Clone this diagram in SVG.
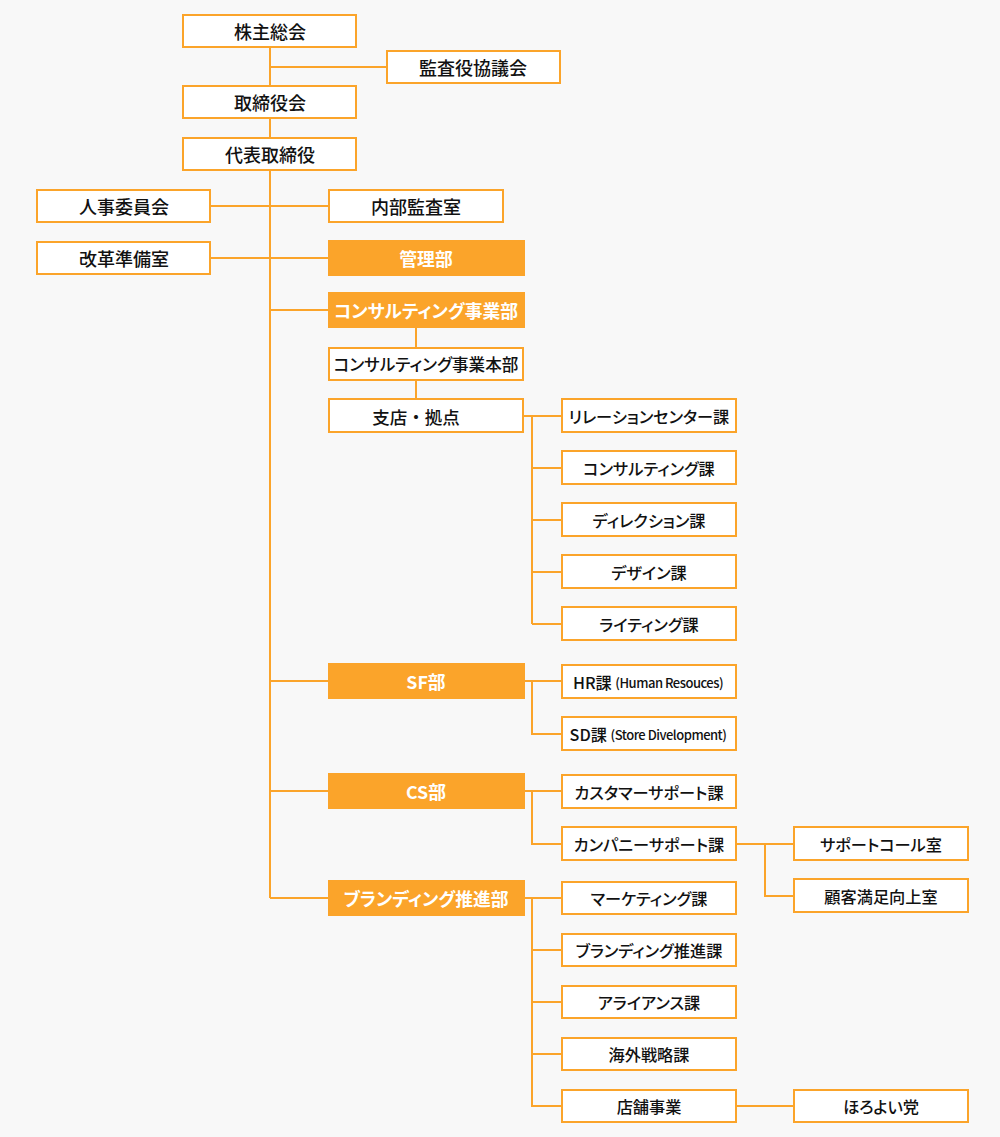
<svg xmlns="http://www.w3.org/2000/svg" width="1000" height="1137" viewBox="0 0 1000 1137">
<style>
.b{fill:#fff;stroke:#fba42a;stroke-width:2}
.f{fill:#fba42a}
.t,.u{font-family:"Noto Sans CJK JP","Noto Sans",sans-serif;font-weight:500;fill:#111;text-anchor:middle;dominant-baseline:central}
.t{font-size:18px}
.u{font-size:16.2px;font-feature-settings:"palt"}
.w{font-family:"Noto Sans CJK JP","Noto Sans",sans-serif;font-size:17.8px;font-weight:700;fill:#fff;text-anchor:middle;dominant-baseline:central;font-feature-settings:"palt"}
.s{font-size:13px;letter-spacing:-0.5px}
.c{stroke:#fba42a;stroke-width:2;fill:none}
</style>
<rect width="1000" height="1137" fill="#f8f8f8"/>
<g id="connectors" class="c">
<path d="M270 48V898"/>
<path d="M270 67H386"/>
<path d="M211 206H328M211 258H328M270 310H328"/>
<path d="M416 328V398"/>
<path d="M524 416H561M532 416V624M532 468H561M532 520H561M532 572H561M532 624H561"/>
<path d="M270 681H561M532 681V734H561"/>
<path d="M270 791H561M532 791V844H561"/>
<path d="M737 844H793M765 844V896H793"/>
<path d="M270 898H561M532 898V1106H561M532 950H561M532 1002H561M532 1054H561"/>
<path d="M737 1106H793"/>
</g>
<g id="n1"><rect class="b" x="183" y="15" width="173" height="32"/><text class="t" x="270" y="31">株主総会</text></g>
<g id="n2"><rect class="b" x="387" y="51" width="173" height="32"/><text class="t" x="473" y="67">監査役協議会</text></g>
<g id="n3"><rect class="b" x="183" y="86" width="173" height="32"/><text class="t" x="270" y="102">取締役会</text></g>
<g id="n4"><rect class="b" x="183" y="138" width="173" height="32"/><text class="t" x="270" y="154">代表取締役</text></g>
<g id="n5"><rect class="b" x="37" y="190" width="173" height="32"/><text class="t" x="124" y="206">人事委員会</text></g>
<g id="n6"><rect class="b" x="329" y="190" width="174" height="32"/><text class="t" x="416" y="206">内部監査室</text></g>
<g id="n7"><rect class="b" x="37" y="242" width="173" height="32"/><text class="t" x="124" y="258">改革準備室</text></g>
<g id="n8"><rect class="f" x="328" y="240" width="197" height="36"/><text class="w" x="426" y="258">管理部</text></g>
<g id="n9"><rect class="f" x="328" y="292" width="197" height="36"/><text class="w" x="426" y="310">コンサルティング事業部</text></g>
<g id="n10"><rect class="b" x="329" y="348" width="194" height="32"/><text class="u" x="426" y="364" style="font-size:16.6px">コンサルティング事業本部</text></g>
<g id="n11"><rect class="b" x="329" y="399" width="194" height="33"/><text class="t" x="416" y="416" style="font-size:17.5px">支店・拠点</text></g>
<g id="n12"><rect class="b" x="562" y="399" width="174" height="33"/><text class="u" x="649" y="416">リレーションセンター課</text></g>
<g id="n13"><rect class="b" x="562" y="451" width="174" height="33"/><text class="u" x="649" y="468">コンサルティング課</text></g>
<g id="n14"><rect class="b" x="562" y="503" width="174" height="33"/><text class="u" x="649" y="520">ディレクション課</text></g>
<g id="n15"><rect class="b" x="562" y="555" width="174" height="33"/><text class="u" x="649" y="572">デザイン課</text></g>
<g id="n16"><rect class="b" x="562" y="607" width="174" height="33"/><text class="u" x="649" y="624">ライティング課</text></g>
<g id="n17"><rect class="f" x="328" y="663" width="197" height="36"/><text class="w" x="426" y="681">SF部</text></g>
<g id="n18"><rect class="b" x="562" y="665" width="174" height="33"/><text class="u" x="648" y="682">HR課 <tspan class="s">(Human Resouces)</tspan></text></g>
<g id="n19"><rect class="b" x="562" y="717" width="174" height="33"/><text class="u" x="648" y="734">SD課 <tspan class="s">(Store Divelopment)</tspan></text></g>
<g id="n20"><rect class="f" x="328" y="773" width="197" height="36"/><text class="w" x="426" y="791">CS部</text></g>
<g id="n21"><rect class="b" x="562" y="775" width="174" height="33"/><text class="u" x="649" y="792">カスタマーサポート課</text></g>
<g id="n22"><rect class="b" x="562" y="827" width="174" height="33"/><text class="u" x="649" y="844">カンパニーサポート課</text></g>
<g id="n23"><rect class="b" x="794" y="827" width="174" height="33"/><text class="u" x="881" y="844">サポートコール室</text></g>
<g id="n24"><rect class="b" x="794" y="879" width="174" height="33"/><text class="u" x="881" y="896">顧客満足向上室</text></g>
<g id="n25"><rect class="f" x="328" y="880" width="197" height="36"/><text class="w" x="426" y="898">ブランディング推進部</text></g>
<g id="n26"><rect class="b" x="562" y="882" width="174" height="32"/><text class="u" x="649" y="898">マーケティング課</text></g>
<g id="n27"><rect class="b" x="562" y="934" width="174" height="32"/><text class="u" x="649" y="950">ブランディング推進課</text></g>
<g id="n28"><rect class="b" x="562" y="986" width="174" height="32"/><text class="u" x="649" y="1002">アライアンス課</text></g>
<g id="n29"><rect class="b" x="562" y="1038" width="174" height="32"/><text class="u" x="649" y="1054">海外戦略課</text></g>
<g id="n30"><rect class="b" x="562" y="1090" width="174" height="32"/><text class="u" x="649" y="1106">店舗事業</text></g>
<g id="n31"><rect class="b" x="794" y="1090" width="174" height="32"/><text class="u" x="881" y="1106">ほろよい党</text></g>
</svg>
